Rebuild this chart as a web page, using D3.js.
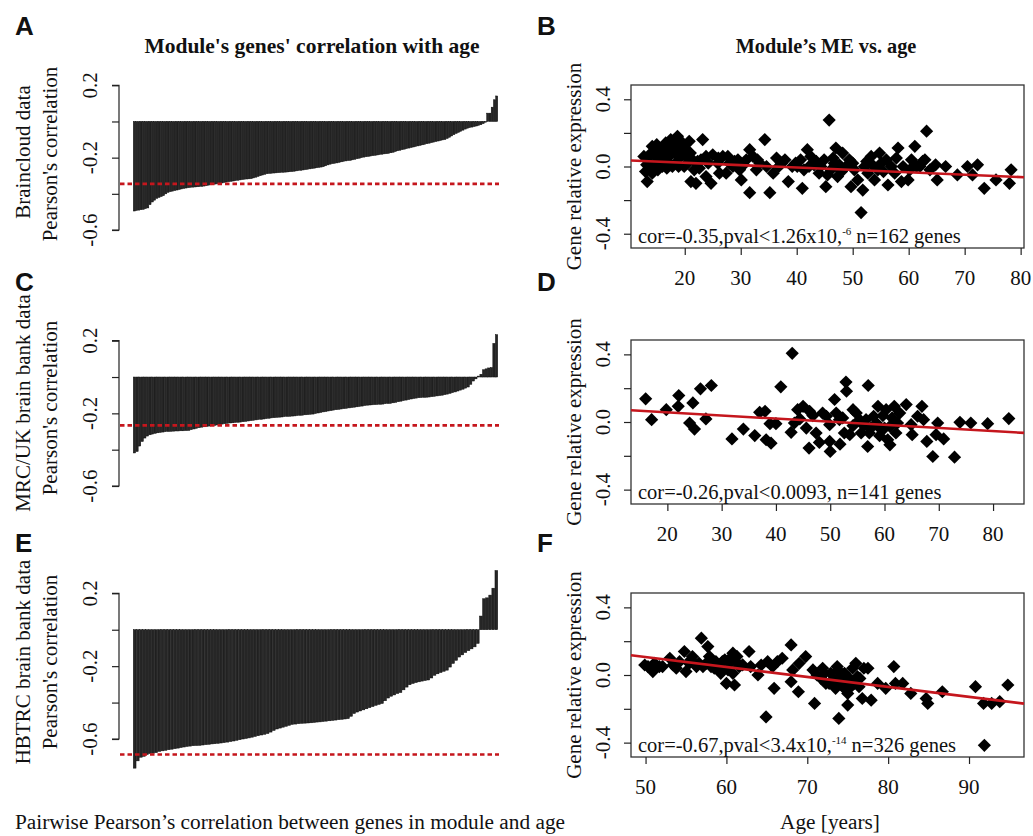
<!DOCTYPE html>
<html><head><meta charset="utf-8">
<script src="https://cdn.jsdelivr.net/npm/d3@7"></script>
<style>
body{margin:0;background:#fff;}
svg{display:block;}
.serif{font-family:"Liberation Serif","Times New Roman",serif;}
.lab{font-family:"Liberation Sans",Arial,sans-serif;font-weight:bold;}
</style></head>
<body>
<svg id="chart" width="1033" height="836"></svg>
<script>
// ---------------- DATA ----------------
// Panel A: per-gene Pearson correlation with age (sorted), Braincloud
const barsA = [
-0.495,-0.492,-0.49,-0.488,-0.486,-0.482,-0.478,-0.46,-0.445,-0.435,
-0.425,-0.42,-0.415,-0.41,-0.40,-0.392,-0.388,-0.385,-0.382,-0.379,
-0.376,-0.373,-0.37,-0.368,-0.366,-0.364,-0.363,-0.362,-0.361,-0.36,
-0.359,-0.357,-0.355,-0.352,-0.35,-0.348,-0.346,-0.344,-0.342,-0.34,
-0.337,-0.335,-0.333,-0.331,-0.329,-0.327,-0.325,-0.323,-0.321,-0.319,
-0.318,-0.317,-0.316,-0.312,-0.308,-0.304,-0.300,-0.296,-0.292,-0.289,
-0.287,-0.286,-0.285,-0.284,-0.283,-0.282,-0.281,-0.280,-0.279,-0.278,
-0.277,-0.275,-0.273,-0.271,-0.27,-0.268,-0.266,-0.264,-0.262,-0.26,
-0.258,-0.256,-0.254,-0.252,-0.25,-0.245,-0.24,-0.236,-0.233,-0.231,
-0.229,-0.226,-0.223,-0.22,-0.218,-0.216,-0.215,-0.212,-0.209,-0.206,
-0.203,-0.2,-0.197,-0.195,-0.193,-0.191,-0.189,-0.187,-0.185,-0.183,
-0.181,-0.179,-0.178,-0.176,-0.173,-0.17,-0.166,-0.162,-0.159,-0.156,
-0.153,-0.15,-0.147,-0.144,-0.141,-0.138,-0.135,-0.132,-0.129,-0.126,
-0.123,-0.12,-0.117,-0.114,-0.111,-0.108,-0.105,-0.102,-0.10,-0.094,
-0.087,-0.08,-0.073,-0.066,-0.06,-0.054,-0.048,-0.042,-0.037,-0.034,
-0.031,-0.028,-0.025,-0.021,-0.018,-0.012,-0.004,0.046,0.046,0.079,
0.12,0.141];
const thresholdA = -0.345;

// Panel C: MRC/UK brain bank
const barsC = [
-0.418,-0.41,-0.38,-0.355,-0.336,-0.325,-0.318,-0.314,-0.31,-0.307,
-0.305,-0.303,-0.301,-0.300,-0.299,-0.298,-0.297,-0.297,-0.296,-0.296,
-0.295,-0.294,-0.29,-0.286,-0.282,-0.279,-0.276,-0.274,-0.272,-0.27,
-0.268,-0.266,-0.264,-0.262,-0.259,-0.257,-0.255,-0.253,-0.252,-0.25,
-0.249,-0.248,-0.246,-0.244,-0.242,-0.24,-0.238,-0.236,-0.234,-0.233,
-0.231,-0.229,-0.227,-0.225,-0.224,-0.222,-0.221,-0.22,-0.218,-0.217,
-0.216,-0.215,-0.214,-0.212,-0.211,-0.21,-0.208,-0.207,-0.205,-0.204,
-0.201,-0.198,-0.195,-0.192,-0.19,-0.187,-0.185,-0.182,-0.18,-0.178,
-0.176,-0.174,-0.172,-0.17,-0.168,-0.166,-0.164,-0.162,-0.16,-0.157,
-0.155,-0.154,-0.153,-0.152,-0.151,-0.15,-0.149,-0.147,-0.146,-0.145,
-0.142,-0.139,-0.136,-0.133,-0.13,-0.127,-0.124,-0.121,-0.118,-0.116,
-0.114,-0.113,-0.112,-0.111,-0.11,-0.108,-0.106,-0.104,-0.102,-0.10,
-0.097,-0.094,-0.09,-0.086,-0.082,-0.077,-0.072,-0.067,-0.061,-0.055,
-0.04,-0.022,-0.01,0.005,0.015,0.04,0.045,0.05,0.052,0.185,0.233];
const thresholdC = -0.266;

// Panel E: HBTRC brain bank
const barsE = [
-0.76,-0.72,-0.70,-0.695,-0.685,-0.68,-0.678,-0.675,-0.668,-0.665,
-0.662,-0.659,-0.656,-0.653,-0.65,-0.647,-0.644,-0.641,-0.639,-0.637,
-0.636,-0.635,-0.633,-0.631,-0.629,-0.627,-0.626,-0.624,-0.622,-0.62,
-0.617,-0.614,-0.611,-0.607,-0.604,-0.60,-0.597,-0.594,-0.59,-0.586,
-0.582,-0.578,-0.574,-0.57,-0.562,-0.553,-0.545,-0.54,-0.535,-0.53,
-0.525,-0.52,-0.518,-0.516,-0.514,-0.513,-0.512,-0.511,-0.509,-0.507,
-0.506,-0.504,-0.502,-0.5,-0.498,-0.496,-0.494,-0.492,-0.49,-0.488,
-0.475,-0.46,-0.452,-0.446,-0.44,-0.434,-0.428,-0.422,-0.415,-0.41,
-0.405,-0.39,-0.375,-0.365,-0.358,-0.35,-0.345,-0.33,-0.315,-0.302,
-0.295,-0.29,-0.286,-0.282,-0.279,-0.276,-0.265,-0.25,-0.242,-0.235,
-0.228,-0.222,-0.205,-0.185,-0.168,-0.15,-0.138,-0.125,-0.115,-0.105,
-0.094,-0.075,0.075,0.17,0.175,0.19,0.228,0.325];
const thresholdE = -0.685;

const barTicks = [0.2, 0, -0.2, -0.4, -0.6];
const barTickLabels = ["0.2", "", "-0.2", "", "-0.6"];

// Panel B: module eigengene vs age (Braincloud)
const ageB = [13.3,13.0,12.7,14.2,14.8,15.4,13.9,16.6,16.9,16.0,17.5,18.7,19.0,18.1,18.4,19.6,20.2,20.8,21.4,21.7,
21.1,22.0,23.2,22.9,23.8,23.8,24.7,25.0,25.9,26.8,27.4,28.0,28.6,29.5,29.8,30.1,31.6,31.6,32.2,32.8,
33.4,34.3,34.6,35.2,35.8,36.4,37.3,37.9,38.5,39.2,40.7,41.0,41.3,41.9,42.2,43.1,44.0,44.9,45.2,45.8,
46.1,46.7,47.0,47.3,48.2,48.8,49.4,49.7,50.3,50.9,51.5,51.8,52.1,53.3,53.9,54.5,55.1,56.0,56.3,56.9,
58.1,58.7,59.0,59.9,60.5,61.1,62.0,62.9,63.2,63.8,64.8,65.1,66.6,68.7,70.5,71.4,72.3,73.5,75.6,78.0,
78.3,14.2,15.4,17.2,17.8,19.3,19.9,20.5,22.6,18.4,16.0,17.5,27.7,26.2,31.0,40.1,42.5,44.3,47.6,52.7,
54.8,57.5,61.4,13.5,14.5,15.0,15.8,16.3,17.0,17.8,18.5,19.2,20.0,20.5,21.0,15.2,16.8,18.9,14.0,13.2,
22.3,24.2,26.0,28.9,30.5,33.0,36.8,39.8,43.5,45.5,46.5,48.0,50.0,52.5,53.5,55.5,57.8,60.2,62.5];
const meB = [-0.09,-0.03,0.06,0.12,0.06,0.02,0.0,0.14,0.02,0.08,0.16,0.18,0.12,0.10,0.02,0.14,0.06,0.15,0.04,-0.02,
-0.09,-0.10,0.16,0.04,0.06,-0.06,-0.10,0.07,0.02,0.06,-0.04,0.02,0.0,0.04,-0.02,-0.08,0.10,-0.156,0.06,-0.02,
0.02,0.16,0.0,-0.156,-0.04,0.05,0.02,0.04,-0.09,0.0,0.04,-0.13,-0.02,0.10,0.0,0.01,-0.04,0.04,-0.12,0.276,
-0.02,0.02,0.11,-0.06,0.08,0.0,0.04,-0.12,-0.02,-0.08,-0.274,-0.14,0.0,0.06,-0.08,-0.02,0.02,0.04,-0.11,0.0,
0.11,-0.09,0.0,-0.08,0.04,0.12,0.0,0.04,0.21,-0.02,0.01,-0.08,0.0,-0.05,0.0,-0.05,0.01,-0.13,-0.08,-0.10,
-0.02,-0.04,0.11,0.06,0.0,0.06,0.0,0.09,-0.01,0.14,0.0,0.01,0.06,-0.04,0.04,0.0,0.06,0.0,0.01,-0.04,
0.08,-0.04,0.0,0.03,0.09,0.13,0.10,0.04,0.12,0.15,0.07,0.09,0.11,0.02,0.08,-0.02,-0.01,0.0,0.08,0.01,
0.03,0.02,0.05,0.03,0.01,0.04,0.0,0.02,0.03,-0.05,0.05,-0.03,0.02,0.03,0.01,-0.03,0.05,-0.02,0.03];
const fitB = [0.0508, -0.00142]; // intercept, slope

// Panel D: MRC/UK
const ageD = [16.0,17.1,19.8,22.0,22.1,24.1,25.0,24.7,26.1,27.1,28.1,31.9,34.0,36.1,37.0,38.0,38.2,39.1,38.9,40.0,
40.9,43.0,42.8,43.4,44.0,45.0,44.4,45.6,46.1,46.8,47.4,48.0,48.6,49.9,50.0,49.9,50.8,51.1,51.8,52.3,
52.9,53.0,53.6,54.2,54.8,55.4,55.7,56.6,56.9,57.0,57.5,58.5,58.8,59.1,59.7,60.0,60.3,60.6,61.0,61.4,
61.8,62.1,62.8,64.0,64.9,65.1,66.1,66.9,67.2,67.8,68.9,69.8,69.5,70.9,72.9,73.9,75.9,79.0,82.9,46.2,
49.3,51.7,54.2,56.2,58.0,59.4,61.0,62.4,57.2,52.6];
const meD = [0.137,0.014,0.073,0.093,0.156,-0.006,-0.042,0.113,0.196,0.018,0.216,-0.10,-0.042,-0.08,0.057,0.063,-0.105,-0.125,-0.01,-0.01,
0.208,0.406,-0.061,-0.006,0.073,0.093,0.018,-0.036,-0.154,0.038,-0.065,-0.121,0.053,-0.016,-0.174,-0.115,0.133,0.053,-0.131,0.024,
0.236,0.182,-0.075,-0.022,0.053,0.014,-0.065,0.014,-0.145,0.216,-0.036,-0.006,0.093,-0.081,0.038,-0.036,0.073,-0.105,-0.135,0.024,
0.093,-0.065,0.053,0.103,-0.016,-0.075,0.034,0.093,0.014,-0.115,-0.204,-0.006,-0.075,-0.10,-0.208,-0.002,-0.006,-0.01,0.02,0.063,
0.034,0.014,0.073,-0.022,0.034,-0.045,-0.026,-0.006,-0.065,-0.065];
const fitD = [0.094, -0.00185];

// Panel F: HBTRC
const ageF = [49.9,50.3,50.9,51.1,51.7,52.1,53.0,53.8,54.2,54.8,55.0,55.4,55.8,56.3,56.9,57.1,57.7,57.9,58.1,58.7,
59.1,59.5,60.0,60.2,60.8,61.0,61.2,60.8,62.8,63.0,63.9,64.3,64.9,65.1,65.7,65.9,66.3,66.9,68.0,68.0,
68.2,68.9,69.0,69.8,70.7,70.9,71.7,71.9,72.3,72.9,73.3,73.7,73.9,74.2,74.6,74.8,75.0,75.2,75.6,75.8,
76.0,76.4,76.8,77.0,77.9,78.7,79.7,80.7,80.9,81.8,82.8,84.7,84.9,86.7,90.8,91.8,91.9,92.8,93.8,94.8,
72.7,73.5,74.4,75.4,74.0,72.1,75.0,76.2,53.4,57.5,59.3,60.4,61.6,58.5,55.6,56.6,58.3,59.8,60.5,61.3,
62.0,73.0,74.5,75.3,76.5,71.2,73.8,77.5];
const meF = [0.059,0.05,0.02,0.069,0.05,0.05,0.099,0.04,0.079,0.139,0.02,0.069,0.109,0.05,0.218,0.05,0.168,0.109,0.05,0.079,
0.05,0.079,-0.05,0.03,0.129,-0.059,0.079,0.01,0.139,0.05,0.0,0.059,-0.248,0.079,0.05,-0.079,0.079,0.099,0.178,-0.04,
0.03,-0.099,0.069,0.109,0.03,-0.168,-0.02,0.04,-0.05,0.01,-0.03,0.05,-0.257,-0.059,0.01,-0.089,-0.178,-0.02,0.04,-0.05,
0.069,-0.069,-0.139,0.04,-0.149,-0.05,-0.079,0.05,-0.05,-0.05,-0.109,-0.139,-0.168,-0.099,-0.069,-0.168,-0.416,-0.168,-0.158,-0.059,
-0.05,-0.079,-0.03,-0.069,-0.01,0.01,-0.109,-0.01,0.059,0.069,0.01,0.069,0.05,0.04,0.09,0.07,0.08,0.09,0.10,0.11,
0.06,-0.04,-0.06,-0.03,-0.02,0.0,0.03,0.04];
const fitF = [0.400, -0.00588];

const scatterYTicks = [0.4, 0.2, 0, -0.2, -0.4];
const scatterYTickLabels = ["0.4", "", "0.0", "", "-0.4"];
const xTicksB = [20,30,40,50,60,70,80];
const xTicksD = [20,30,40,50,60,70,80];
const xTicksF = [50,60,70,80,90];

// ---------------- DRAWING ----------------
const svg = d3.select("#chart");
const RED = "#c5161d";
const FS = 21;

function rotText(x, y, txt, size, anchor) {
  svg.append("text").attr("class","serif")
    .attr("transform", `translate(${x},${y}) rotate(-90)`)
    .attr("text-anchor", anchor || "middle")
    .attr("font-size", size).attr("fill","#111").text(txt);
}

function barPanel(vals, thr, lay) {
  const y = d3.scaleLinear().domain([-0.6, 0.2]).range([lay.yBottom, lay.yTop]);
  const x = d3.scaleBand().domain(d3.range(vals.length)).range([133.3, 497.7]).paddingInner(0.12);
  svg.append("g").selectAll("rect").data(vals).join("rect")
    .attr("x", (d,i) => x(i))
    .attr("width", x.bandwidth())
    .attr("y", d => Math.min(y(d), y(0)))
    .attr("height", d => Math.abs(y(d) - y(0)))
    .attr("fill", "#262626")
    .attr("stroke", "#0a0a0a").attr("stroke-width", 0.5);
  const axis = d3.axisLeft(y).tickValues(barTicks).tickSize(7).tickFormat(() => "");
  const ag = svg.append("g").attr("transform", "translate(119,0)").call(axis);
  ag.select(".domain").attr("stroke","#222").attr("stroke-width",1.2)
    .attr("d", `M-7,${y(0.2)}H0V${y(-0.6)}H-7`);
  ag.selectAll(".tick line").attr("stroke","#222").attr("stroke-width",1.2);
  barTicks.forEach((t,i) => {
    if (barTickLabels[i]) rotText(97, y(t), barTickLabels[i], FS);
  });
  svg.append("line").attr("x1", 120).attr("x2", 499)
    .attr("y1", y(thr)).attr("y2", y(thr))
    .attr("stroke", RED).attr("stroke-width", 2.6)
    .attr("stroke-dasharray", "4.5,3");
  rotText(30, lay.lab1Y, lay.lab1, FS);
  rotText(57, lay.lab2Y, "Pearson's correlation", FS);
}

function scatterPanel(ages, mes, fit, xdom, xticks, lay, note) {
  const x = d3.scaleLinear().domain(xdom).range([631, 1024]);
  const y = d3.scaleLinear().domain([-0.485, 0.485]).range([lay.bottom, lay.top]);
  svg.append("rect").attr("x", 631).attr("y", lay.top)
    .attr("width", 393).attr("height", lay.bottom - lay.top)
    .attr("fill","none").attr("stroke","#333").attr("stroke-width",1.3);
  const ya = svg.append("g").attr("transform","translate(631,0)")
    .call(d3.axisLeft(y).tickValues(scatterYTicks).tickSize(7).tickFormat(() => ""));
  ya.select(".domain").remove();
  ya.selectAll(".tick line").attr("stroke","#222").attr("stroke-width",1.2);
  scatterYTicks.forEach((t,i) => {
    if (scatterYTickLabels[i]) rotText(610, y(t), scatterYTickLabels[i], FS);
  });
  const xa = svg.append("g").attr("transform", `translate(0,${lay.bottom})`)
    .call(d3.axisBottom(x).tickValues(xticks).tickSize(7).tickFormat(() => ""));
  xa.select(".domain").remove();
  xa.selectAll(".tick line").attr("stroke","#222").attr("stroke-width",1.2);
  svg.append("g").selectAll("text").data(xticks).join("text")
    .attr("class","serif").attr("x", d => x(d)).attr("y", lay.bottom + 37)
    .attr("text-anchor","middle").attr("font-size",FS).attr("fill","#111")
    .text(d => d);
  const r = 6.6;
  const dia = `M0,${-r}L${r},0L0,${r}L${-r},0Z`;
  svg.append("g").selectAll("path").data(ages.map((a,i)=>[a, mes[i]])).join("path")
    .attr("d", dia)
    .attr("transform", d => `translate(${x(d[0])},${y(d[1])})`)
    .attr("fill","#000");
  const x0 = xdom[0], x1 = xdom[1];
  svg.append("line")
    .attr("x1", x(x0)).attr("y1", y(fit[0] + fit[1]*x0))
    .attr("x2", x(x1)).attr("y2", y(fit[0] + fit[1]*x1))
    .attr("stroke", RED).attr("stroke-width", 2.6);
  // annotation (superscript drawn as its own small text)
  const by = lay.bottom - 5;
  const t1 = svg.append("text").attr("class","serif").attr("x", 638).attr("y", by)
    .attr("font-size", 20.5).attr("fill","#111").text(note[0]);
  if (note[1]) {
    const w1 = t1.node().getComputedTextLength();
    const t2 = svg.append("text").attr("class","serif").attr("x", 638 + w1).attr("y", by - 8)
      .attr("font-size", 11).attr("fill","#111").text(note[1]);
    const w2 = t2.node().getComputedTextLength();
    svg.append("text").attr("class","serif").attr("x", 638 + w1 + w2 + 5).attr("y", by)
      .attr("font-size", 20.5).attr("fill","#111").text(note[2]);
  }
  rotText(581, (lay.top + lay.bottom)/2, "Gene relative expression", FS);
}

// panel letters
[["A",15,35],["B",537,35],["C",15,291],["D",537,291],["E",15,552],["F",537,552]].forEach(l => {
  svg.append("text").attr("class","lab").attr("x",l[1]).attr("y",l[2])
    .attr("font-size",26).attr("fill","#111").text(l[0]);
});

// titles
svg.append("text").attr("class","serif").attr("x",312).attr("y",53)
  .attr("text-anchor","middle").attr("font-weight","bold").attr("font-size",21.5)
  .attr("fill","#111").text("Module's genes' correlation with age");
svg.append("text").attr("class","serif").attr("x",826).attr("y",53)
  .attr("text-anchor","middle").attr("font-weight","bold").attr("font-size",20.3)
  .attr("fill","#111").text("Module\u2019s ME vs. age");

barPanel(barsA, thresholdA, {yTop:85.3, yBottom:230, lab1:"Braincloud data", lab1Y:152, lab2Y:154});
barPanel(barsC, thresholdC, {yTop:340.7, yBottom:486, lab1:"MRC/UK brain bank data", lab1Y:403, lab2Y:408});
barPanel(barsE, thresholdE, {yTop:593.3, yBottom:739, lab1:"HBTRC brain bank data", lab1Y:662, lab2Y:662});

scatterPanel(ageB, meB, fitB, [10.4, 80.6], xTicksB, {top:85, bottom:248},
  ["cor=-0.35,pval<1.26x10,", "-6", "n=162 genes"]);
scatterPanel(ageD, meD, fitD, [13.3, 85.7], xTicksD, {top:340, bottom:504},
  ["cor=-0.26,pval<0.0093, n=141 genes"]);
scatterPanel(ageF, meF, fitF, [48.2, 96.8], xTicksF, {top:593, bottom:757},
  ["cor=-0.67,pval<3.4x10,", "-14", "n=326 genes"]);

// bottom axis titles
svg.append("text").attr("class","serif").attr("x",15).attr("y",829)
  .attr("font-size",21.3).attr("fill","#111")
  .text("Pairwise Pearson\u2019s correlation between genes in module and age");
svg.append("text").attr("class","serif").attr("x",830).attr("y",829)
  .attr("text-anchor","middle").attr("font-size",21.3).attr("fill","#111")
  .text("Age [years]");
</script>
</body></html>
